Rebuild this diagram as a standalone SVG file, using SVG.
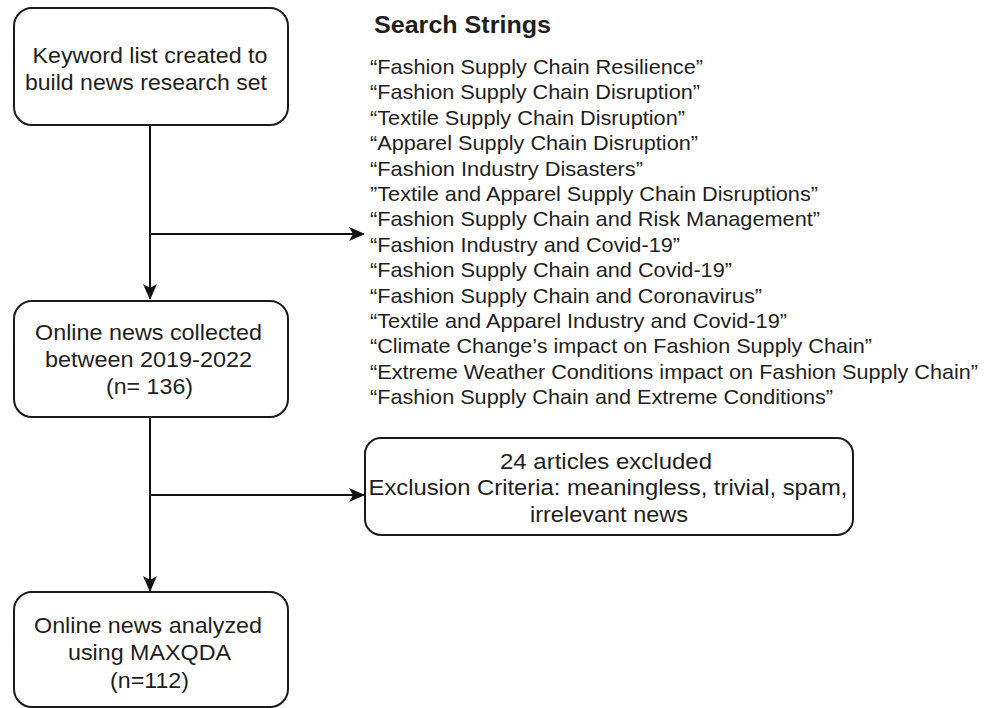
<svg xmlns="http://www.w3.org/2000/svg" width="984" height="708" viewBox="0 0 984 708">
<defs>
<style>
.box{fill:#ffffff;stroke:#1a1a1a;stroke-width:2}
.t{font-family:"Liberation Sans",Arial,Helvetica,sans-serif;fill:#1e1e1e}
.bt{font-size:22.5px;text-anchor:middle}
.lt{font-size:21px}
.ttl{font-size:23px;font-weight:bold}
.edge{fill:none;stroke:#111111;stroke-width:2}
</style>
<marker id="arr" markerUnits="userSpaceOnUse" markerWidth="16" markerHeight="14" viewBox="0 0 16 14" refX="15" refY="7" orient="auto">
<path d="M0,0 L16,7 L0,14 L4,7 z" fill="#111111"/>
</marker>
</defs>
<rect width="984" height="708" fill="#ffffff"/>

<g id="connectors">
<path class="edge" d="M150,125 L150,299" marker-end="url(#arr)"/>
<path class="edge" d="M150,234 L364,234" marker-end="url(#arr)"/>
<path class="edge" d="M150,417 L150,591" marker-end="url(#arr)"/>
<path class="edge" d="M150,495 L364,495" marker-end="url(#arr)"/>
</g>

<g id="node-keyword">
<rect class="box" x="14" y="8" width="274" height="117" rx="18" ry="18"/>
<text class="t bt" x="150" y="63" textLength="235" lengthAdjust="spacingAndGlyphs">Keyword list created to</text>
<text class="t bt" x="146" y="90" textLength="242" lengthAdjust="spacingAndGlyphs">build news research set</text>
</g>

<g id="node-search-strings">
<text class="t ttl" x="374" y="33" textLength="177" lengthAdjust="spacingAndGlyphs">Search Strings</text>
<text class="t lt" x="370" y="74" textLength="333" lengthAdjust="spacingAndGlyphs">“Fashion Supply Chain Resilience”</text>
<text class="t lt" x="370" y="99.4" textLength="330" lengthAdjust="spacingAndGlyphs">“Fashion Supply Chain Disruption”</text>
<text class="t lt" x="370" y="124.8" textLength="315" lengthAdjust="spacingAndGlyphs">“Textile Supply Chain Disruption”</text>
<text class="t lt" x="370" y="150.2" textLength="328" lengthAdjust="spacingAndGlyphs">“Apparel Supply Chain Disruption”</text>
<text class="t lt" x="370" y="175.6" textLength="273" lengthAdjust="spacingAndGlyphs">“Fashion Industry Disasters”</text>
<text class="t lt" x="370" y="201" textLength="448" lengthAdjust="spacingAndGlyphs">”Textile and Apparel Supply Chain Disruptions”</text>
<text class="t lt" x="370" y="226.4" textLength="450" lengthAdjust="spacingAndGlyphs">“Fashion Supply Chain and Risk Management”</text>
<text class="t lt" x="370" y="251.8" textLength="310" lengthAdjust="spacingAndGlyphs">“Fashion Industry and Covid-19”</text>
<text class="t lt" x="370" y="277.2" textLength="362" lengthAdjust="spacingAndGlyphs">“Fashion Supply Chain and Covid-19”</text>
<text class="t lt" x="370" y="302.6" textLength="392" lengthAdjust="spacingAndGlyphs">“Fashion Supply Chain and Coronavirus”</text>
<text class="t lt" x="370" y="328" textLength="417" lengthAdjust="spacingAndGlyphs">“Textile and Apparel Industry and Covid-19”</text>
<text class="t lt" x="370" y="353.4" textLength="502" lengthAdjust="spacingAndGlyphs">“Climate Change’s impact on Fashion Supply Chain”</text>
<text class="t lt" x="370" y="378.8" textLength="608" lengthAdjust="spacingAndGlyphs">“Extreme Weather Conditions impact on Fashion Supply Chain”</text>
<text class="t lt" x="370" y="404.2" textLength="463" lengthAdjust="spacingAndGlyphs">“Fashion Supply Chain and Extreme Conditions”</text>
</g>

<g id="node-collected">
<rect class="box" x="14" y="301" width="274" height="116" rx="18" ry="18"/>
<text class="t bt" x="148.5" y="340" textLength="227" lengthAdjust="spacingAndGlyphs">Online news collected</text>
<text class="t bt" x="148.5" y="367" textLength="207" lengthAdjust="spacingAndGlyphs">between 2019-2022</text>
<text class="t bt" x="149.5" y="394" textLength="87" lengthAdjust="spacingAndGlyphs">(n= 136)</text>
</g>

<g id="node-excluded">
<rect class="box" x="365" y="438" width="488" height="97" rx="16" ry="16"/>
<text class="t bt" x="606" y="469" textLength="212" lengthAdjust="spacingAndGlyphs">24 articles excluded</text>
<text class="t bt" x="608" y="495" textLength="479" lengthAdjust="spacingAndGlyphs">Exclusion Criteria: meaningless, trivial, spam,</text>
<text class="t bt" x="609" y="522" textLength="158" lengthAdjust="spacingAndGlyphs">irrelevant news</text>
</g>

<g id="node-analyzed">
<rect class="box" x="14" y="592" width="274" height="115" rx="18" ry="18"/>
<text class="t bt" x="148" y="633" textLength="228" lengthAdjust="spacingAndGlyphs">Online news analyzed</text>
<text class="t bt" x="149.5" y="660" textLength="163" lengthAdjust="spacingAndGlyphs">using MAXQDA</text>
<text class="t bt" x="149.5" y="688" textLength="79" lengthAdjust="spacingAndGlyphs">(n=112)</text>
</g>
</svg>
